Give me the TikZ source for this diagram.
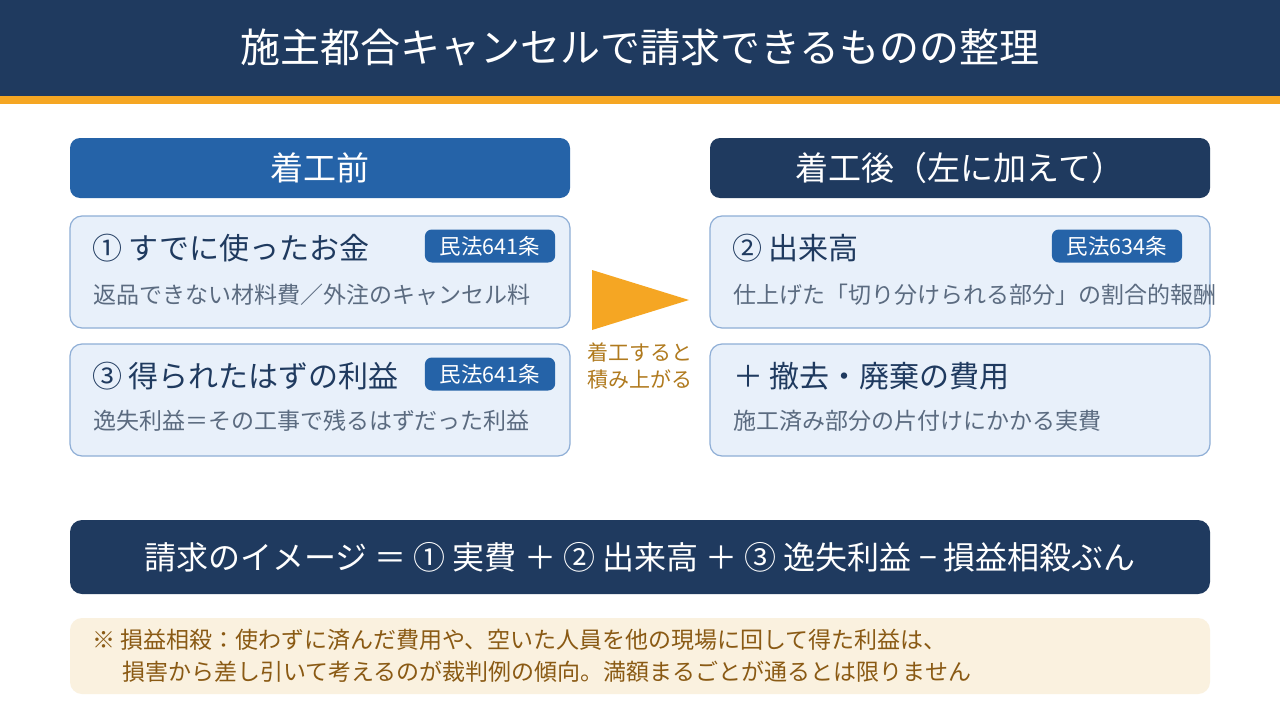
\documentclass[tikz,border=0pt]{standalone}
\usepackage{fontspec}
\setmainfont{Noto Sans CJK JP}
\usepackage{tikz}

\definecolor{navy}{HTML}{1F3A5F}
\definecolor{midblue}{HTML}{2563A8}
\definecolor{cardfill}{HTML}{E8F0FA}
\definecolor{cardline}{HTML}{8EAED6}
\definecolor{accent}{HTML}{F5A623}
\definecolor{subgray}{HTML}{5B6B80}
\definecolor{notefill}{HTML}{FAF1DF}
\definecolor{notetext}{HTML}{8A5A14}
\definecolor{captext}{HTML}{B07A1E}

\newcommand{\fs}[1]{\fontsize{#1}{#1}\selectfont}

\begin{document}
\begin{tikzpicture}[
    x=1pt, y=-1pt,
    every node/.style={inner sep=0pt},
    head/.style={rounded corners=10pt, text=white, font=\fs{33},
      minimum width=500pt, minimum height=60pt},
    card/.style={draw=cardline, fill=cardfill, line width=1.2pt,
      rounded corners=12pt, minimum width=500pt, minimum height=112pt},
    ttl/.style={anchor=west, text=navy, font=\fs{30}},
    sub/.style={anchor=west, text=subgray, font=\fs{23}},
    badge/.style={fill=midblue, text=white, rounded corners=7pt,
      font=\fs{21.5}, inner xsep=15pt, minimum height=33pt}
  ]
    \useasboundingbox (0,0) rectangle (1280,720);
    \fill[white] (0,0) rectangle (1280,720);

    \fill[navy] (0,0) rectangle (1280,96);
    \fill[accent] (0,96) rectangle (1280,104);
    \node[text=white, font=\fs{40}] (title) at (640,47) {施主都合キャンセルで請求できるものの整理};

    \node[head, fill=midblue] (before) at (320,168) {着工前};
    \node[head, fill=navy] (after) at (960,168) {着工後（左に加えて）};

    \node[card] (spent) at (320,272) {};
    \node[ttl] (spentT) at (92,248) {① すでに使ったお金};
    \node[badge] (spentB) at (490,246) {民法641条};
    \node[sub] (spentS) at (93,295) {返品できない材料費／外注のキャンセル料};

    \node[card] (lost) at (320,400) {};
    \node[ttl] (lostT) at (92,376) {③ 得られたはずの利益};
    \node[badge] (lostB) at (490,374) {民法641条};
    \node[sub] (lostS) at (93,421) {逸失利益＝その工事で残るはずだった利益};

    \node[card] (done) at (960,272) {};
    \node[ttl] (doneT) at (732,248) {② 出来高};
    \node[badge] (doneB) at (1117,246) {民法634条};
    \node[sub] (doneS) at (733,295) {仕上げた「切り分けられる部分」の割合的報酬};

    \node[card] (clear) at (960,400) {};
    \node[ttl] (clearT) at (733,376) {＋ 撤去・廃棄の費用};
    \node[sub] (clearS) at (733,421) {施工済み部分の片付けにかかる実費};

    \fill[accent] (592,270) -- (689,300) -- (592,330) -- cycle;
    \node[text=captext, font=\fs{21}, align=center] (grow) at (640,366)
      {着工すると\\[6pt]積み上がる};

    \node[fill=navy, rounded corners=12pt, minimum width=1140pt,
      minimum height=74pt, text=white, font=\fs{32}] (sum) at (640,557)
      {請求のイメージ ＝ ① 実費 ＋ ② 出来高 ＋ ③ 逸失利益 − 損益相殺ぶん};

    \node[fill=notefill, rounded corners=12pt, minimum width=1140pt,
      minimum height=76pt] (note) at (640,656) {};
    \node[anchor=west, text=notetext, font=\fs{23}] (noteA) at (92,640)
      {※ 損益相殺：使わずに済んだ費用や、空いた人員を他の現場に回して得た利益は、};
    \node[anchor=west, text=notetext, font=\fs{23}] (noteB) at (122,672)
      {損害から差し引いて考えるのが裁判例の傾向。満額まるごとが通るとは限りません};
  \end{tikzpicture}
\end{document}
